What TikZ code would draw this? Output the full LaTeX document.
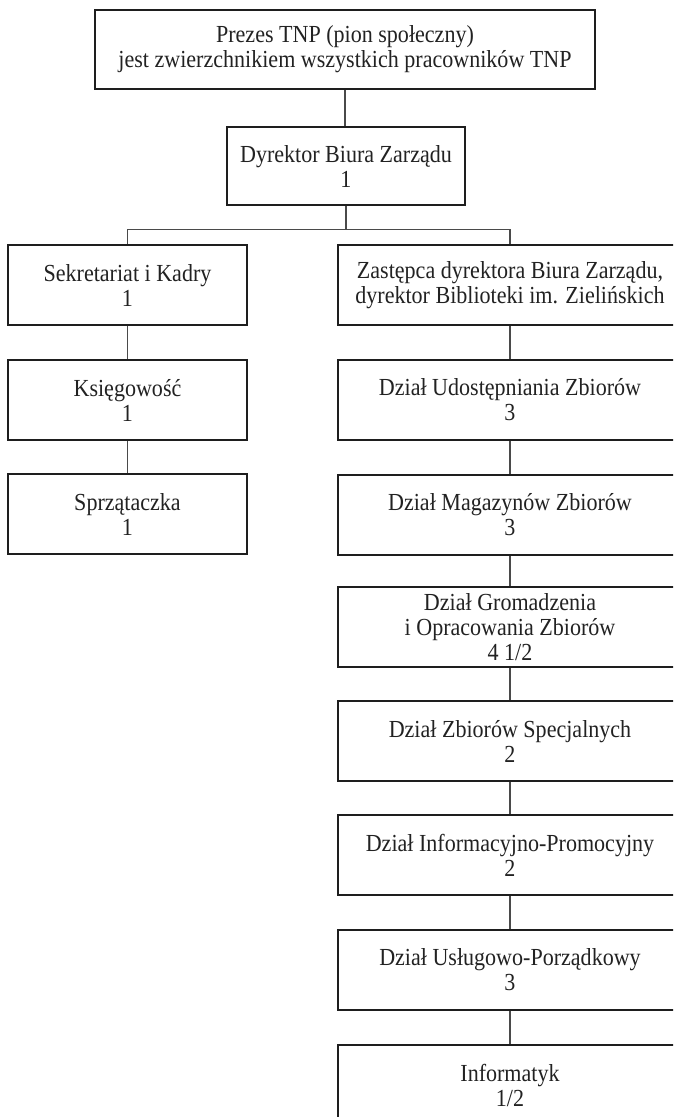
\documentclass[tikz,border=0pt]{standalone}
\usepackage{fontspec}
\setmainfont{Liberation Serif}[FakeStretch=0.9]
\definecolor{boxc}{HTML}{1E1E1E}
\definecolor{linec}{HTML}{4A4A4A}
\definecolor{txtc}{HTML}{222222}
\begin{document}
\begin{tikzpicture}[x=1pt,y=-1pt,
  box/.style={draw=boxc, line width=1.9pt, rectangle, inner sep=0pt, align=center,
    font=\fontsize{24.5}{25}\selectfont, text=txtc},
  lbox/.style={box, minimum width=239pt, minimum height=80pt},
  rbox/.style={box, minimum width=344pt, minimum height=80pt},
  conn/.style={draw=linec, line width=1.3pt}]
\useasboundingbox (0,0) rectangle (673,1117);
\clip (0,0) rectangle (673,1117);
\fill[white] (0,0) rectangle (673,1117);

\node[box, minimum width=500pt, minimum height=79pt] (top) at (345,49.5)
  {Prezes TNP (pion społeczny)\\jest zwierzchnikiem wszystkich pracowników TNP};
\node[box, minimum width=238pt, minimum height=78pt] (dyr) at (346,166)
  {Dyrektor Biura Zarządu\\1};

\node[lbox] (L1) at (127.5,285) {Sekretariat i Kadry\\1};
\node[lbox] (L2) at (127.5,400) {Księgowość\\1};
\node[lbox] (L3) at (127.5,514) {Sprzątaczka\\1};

\node[rbox] (R1) at (510,285) {Zastępca dyrektora Biura Zarządu,\\dyrektor Biblioteki im. Zielińskich};
\node[rbox] (R2) at (510,400) {Dział Udostępniania Zbiorów\\3};
\node[rbox] (R3) at (510,515) {Dział Magazynów Zbiorów\\3};
\node[rbox] (R4) at (510,627) {Dział Gromadzenia\\i Opracowania Zbiorów\\4 1/2};
\node[rbox] (R5) at (510,741) {Dział Zbiorów Specjalnych\\2};
\node[rbox] (R6) at (510,855) {Dział Informacyjno-Promocyjny\\2};
\node[rbox] (R7) at (510,970) {Dział Usługowo-Porządkowy\\3};
\node[rbox] (R8) at (510,1085) {Informatyk\\1/2};

\coordinate (bus) at (346,229.5);
\draw[conn] (top.south) -- (top.south |- dyr.north);
\draw[conn] (dyr.south) -- (bus);
\draw[conn] (L1.north) |- (bus) -| (R1.north);
\draw[conn] (L1.south) -- (L2.north);
\draw[conn] (L2.south) -- (L3.north);
\draw[conn] (R1.south) -- (R2.north);
\draw[conn] (R2.south) -- (R3.north);
\draw[conn] (R3.south) -- (R4.north);
\draw[conn] (R4.south) -- (R5.north);
\draw[conn] (R5.south) -- (R6.north);
\draw[conn] (R6.south) -- (R7.north);
\draw[conn] (R7.south) -- (R8.north);
\end{tikzpicture}
\end{document}
